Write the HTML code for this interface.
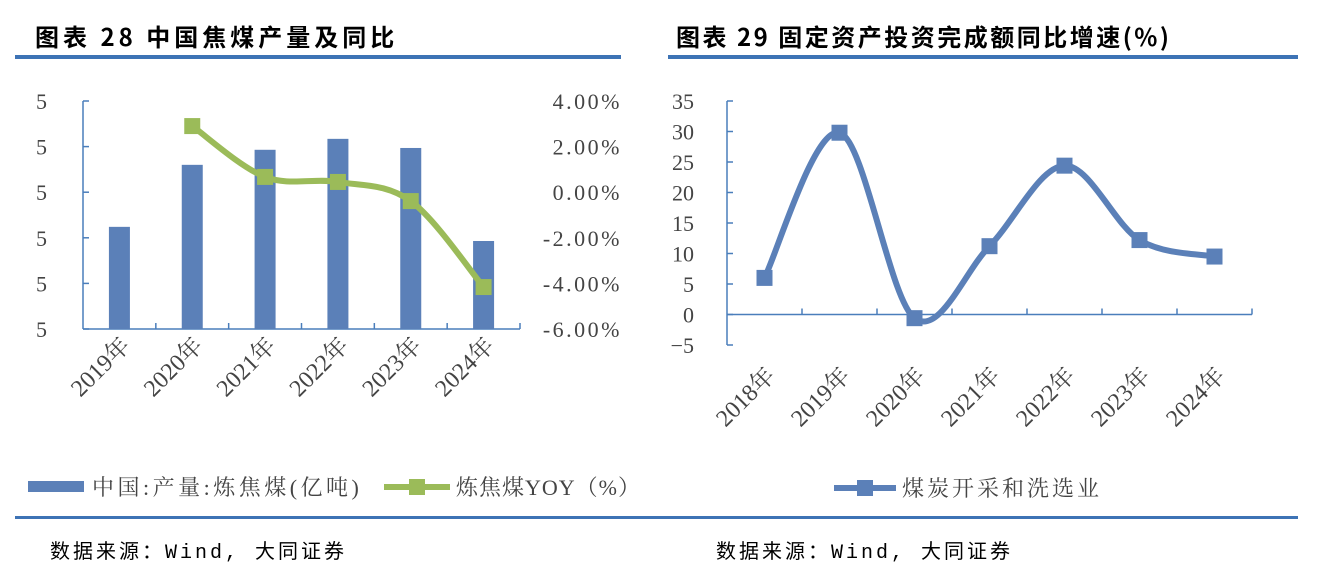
<!DOCTYPE html>
<html><head><meta charset="utf-8"><style>
body{margin:0;width:1334px;height:574px;background:#fff;overflow:hidden;font-family:"Liberation Serif","Noto Serif CJK SC",serif;}
svg{position:absolute;left:0;top:0}
</style></head><body>
<svg width="1334" height="574">
<g id="frame">
<text x="35" y="46" font-size="24" font-weight="bold" fill="#000" letter-spacing="4" font-family="'Noto Sans CJK SC',sans-serif">图表 28 中国焦煤产量及同比</text>
<text x="676" y="46" font-size="24" font-weight="bold" fill="#000" letter-spacing="2.5" font-family="'Noto Sans CJK SC',sans-serif">图表 29 固定资产投资完成额同比增速(%)</text>
<rect x="15" y="55" width="606" height="4" fill="#3d73b5"/>
<rect x="668" y="55" width="630" height="4" fill="#3d73b5"/>
<rect x="15" y="516" width="1283" height="3" fill="#3d73b5"/>
<text x="50" y="558" font-size="20" fill="#000" letter-spacing="3" font-family="'Liberation Mono','Noto Sans CJK SC',monospace">数据来源：Wind, 大同证券</text>
<text x="716" y="558" font-size="20" fill="#000" letter-spacing="3" font-family="'Liberation Mono','Noto Sans CJK SC',monospace">数据来源：Wind, 大同证券</text>
</g>
<g id="left"></g>
<g id="right"></g>
</svg>
<script>
const leftCats=["2019年","2020年","2021年","2022年","2023年","2024年"];
const barValues=[2.24,3.6,3.93,4.17,3.97,1.93];
const yoyValues=[null,2.9,0.67,0.45,-0.39,-4.16];
const leftTicks=["5","5","5","5","5","5"];
const rightTicks=["4.00%","2.00%","0.00%","-2.00%","-4.00%","-6.00%"];
const rightCats=["2018年","2019年","2020年","2021年","2022年","2023年","2024年"];
const invValues=[6,29.8,-0.6,11.2,24.4,12.2,9.5];
const invTicks=[35,30,25,20,15,10,5,0,-5];

const NS="http://www.w3.org/2000/svg";
function mk(p,t,a,txt){const e=document.createElementNS(NS,t);for(const k in a)e.setAttribute(k,a[k]);if(txt!=null)e.textContent=txt;p.appendChild(e);return e;}
function smooth(pts){let d=`M${pts[0][0]},${pts[0][1]}`;for(let i=0;i<pts.length-1;i++){const p0=pts[i-1]||pts[i],p1=pts[i],p2=pts[i+1],p3=pts[i+2]||p2;const t=1/6;d+=` C${p1[0]+(p2[0]-p0[0])*t},${p1[1]+(p2[1]-p0[1])*t} ${p2[0]-(p3[0]-p1[0])*t},${p2[1]-(p3[1]-p1[1])*t} ${p2[0]},${p2[1]}`;}return d;}
const AX="#4a7ebb";

// LEFT
const L=document.getElementById('left');
const lx0=83,lx1=520,ly0=101,ly1=329;
const bw=(lx1-lx0)/leftCats.length;
const lxc=i=>lx0+bw*(i+0.5);
const lyBar=v=>ly1-(v/5)*(ly1-ly0);
const lyPct=v=>ly0+(4-v)/10*(ly1-ly0);
mk(L,'line',{x1:lx0,y1:ly0,x2:lx0,y2:ly1,stroke:AX,'stroke-width':1.5});
mk(L,'line',{x1:lx0,y1:ly1,x2:lx1,y2:ly1,stroke:AX,'stroke-width':1.5});
leftTicks.forEach((t,i)=>{const y=ly0+i*(ly1-ly0)/5;
 mk(L,'line',{x1:lx0,y1:y,x2:lx0+6,y2:y,stroke:AX,'stroke-width':1.5});
 const e=mk(L,'text',{x:36,y:y+8,'font-size':22,fill:'#444'},t);
 const r=mk(L,'text',{x:622,y:y+8,'font-size':22,fill:'#444','text-anchor':'end','letter-spacing':2.5},rightTicks[i]);});
for(let i=1;i<=leftCats.length;i++){const x=lx0+bw*i;mk(L,'line',{x1:x,y1:ly1,x2:x,y2:ly1-6,stroke:AX,'stroke-width':1.5});}
leftCats.forEach((c,i)=>{const b=mk(L,'rect',{x:lxc(i)-10.5,y:lyBar(barValues[i]),width:21,height:ly1-lyBar(barValues[i]),fill:'#5b80b8'});
 
 const x=lxc(i)+12,y=ly1+18;const t=mk(L,'text',{x:x,y:y,'font-size':24,fill:'#444','text-anchor':'end',transform:`rotate(-45 ${x} ${y})`},c);
 });
const yp=[];yoyValues.forEach((v,i)=>{if(v!=null)yp.push([lxc(i),lyPct(v)]);});
const yl=mk(L,'path',{d:smooth(yp),fill:'none',stroke:'#9bbb59','stroke-width':6});

yp.forEach(p=>{const m=mk(L,'rect',{x:p[0]-8,y:p[1]-8,width:16,height:16,fill:'#9bbb59'});});
// legend
const lg=mk(L,'g',{});
mk(lg,'rect',{x:28,y:481,width:56,height:11,fill:'#5b80b8'});
mk(lg,'text',{x:92,y:495,'font-size':22,fill:'#444','letter-spacing':3.5},'中国:产量:炼焦煤(亿吨)');
mk(lg,'line',{x1:384,y1:487,x2:450,y2:487,stroke:'#9bbb59','stroke-width':6});
mk(lg,'rect',{x:409,y:479,width:16,height:16,fill:'#9bbb59'});
mk(lg,'text',{x:456,y:495,'font-size':22,fill:'#444','letter-spacing':1},'炼焦煤YOY（%）');

// RIGHT
const R=document.getElementById('right');
const rx0=727,rx1=1252,ry0=101,ry1=345;
const rbw=(rx1-rx0)/rightCats.length;
const rxc=i=>rx0+rbw*(i+0.5);
const ry=v=>ry0+(35-v)/40*(ry1-ry0);
mk(R,'line',{x1:rx0,y1:ry0,x2:rx0,y2:ry1,stroke:AX,'stroke-width':1.5});
mk(R,'line',{x1:rx0,y1:ry(0),x2:rx1,y2:ry(0),stroke:AX,'stroke-width':1.5});
invTicks.forEach(v=>{const y=ry(v);mk(R,'line',{x1:rx0,y1:y,x2:rx0+6,y2:y,stroke:AX,'stroke-width':1.5});
 const t=mk(R,'text',{x:694,y:y+8,'font-size':22,fill:'#444','text-anchor':'end'},String(v).replace('-','−'));});
for(let i=1;i<=rightCats.length;i++){const x=rx0+rbw*i;mk(R,'line',{x1:x,y1:ry(0),x2:x,y2:ry(0)-6,stroke:AX,'stroke-width':1.5});}
rightCats.forEach((c,i)=>{const x=rxc(i)+12,y=ry1+32;const t=mk(R,'text',{x:x,y:y,'font-size':24,fill:'#444','text-anchor':'end',transform:`rotate(-45 ${x} ${y})`},c);});
const rp=invValues.map((v,i)=>[rxc(i),ry(v)]);
const rl=mk(R,'path',{d:smooth(rp),fill:'none',stroke:'#5b80b8','stroke-width':6});

rp.forEach(p=>{const m=mk(R,'rect',{x:p[0]-8,y:p[1]-8,width:16,height:16,fill:'#5b80b8'});});
const rg=mk(R,'g',{});
mk(rg,'line',{x1:834,y1:488,x2:896,y2:488,stroke:'#5b80b8','stroke-width':6});
mk(rg,'rect',{x:857,y:480,width:16,height:16,fill:'#5b80b8'});
mk(rg,'text',{x:902,y:496,'font-size':22,fill:'#444','letter-spacing':3},'煤炭开采和洗选业');
</script>
</body></html>
